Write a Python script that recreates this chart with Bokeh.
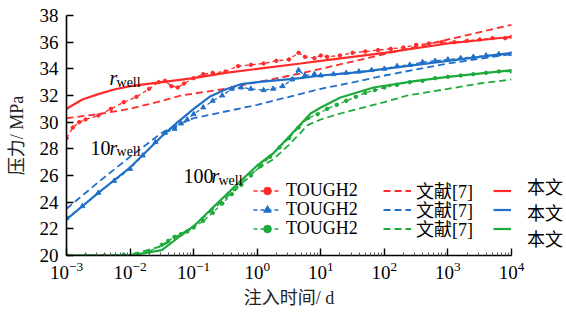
import numpy as np
from bokeh.plotting import figure
from bokeh.models import Legend, LegendItem, Label, FixedTicker
from bokeh.embed import file_html
from bokeh.resources import INLINE

# ---------------- data (log10 of time in days, pressure in MPa) ----------------
# r_well (red)
red_ours_logt = [-3.0, -2.75, -2.5, -2.25, -2.0, -1.5, -1.0, -0.5, 0.0, 0.68, 1.0, 2.0, 3.0, 4.0]
red_ours_p    = [31.0, 31.7, 32.1, 32.45, 32.7, 33.0, 33.3, 33.7, 34.0, 34.4, 34.6, 35.2, 35.9, 36.4]
red_ref_logt  = [-3.0, -2.5, -2.0, -1.5, -1.2, -0.5, 0.0, 0.68, 1.0, 2.0, 3.0, 4.0]
red_ref_p     = [30.3, 30.6, 31.0, 31.6, 32.0, 32.5, 33.0, 33.65, 34.0, 35.1, 36.2, 37.3]
red_tough_logt = [-3.0, -2.9, -2.8, -2.7, -2.5, -2.3, -2.1, -1.9, -1.7, -1.55, -1.45, -1.35, -1.25,
                  -1.15, -1.0, -0.85, -0.7, -0.5, -0.3, -0.1, 0.1, 0.3, 0.5, 0.65, 0.75, 0.9, 1.0,
                  1.1, 1.3, 1.5, 1.7, 1.9, 2.1, 2.3, 2.5, 2.7, 2.9, 3.1, 3.3, 3.5, 3.7, 3.9, 4.0]
red_tough_p    = [28.8, 29.6, 30.0, 30.2, 30.5, 31.0, 31.5, 31.9, 32.5, 33.0, 33.1, 32.7, 32.6,
                  32.9, 33.3, 33.6, 33.7, 33.8, 34.2, 34.3, 34.4, 34.6, 34.7, 35.2, 34.9, 34.8, 35.0,
                  34.9, 35.0, 35.2, 35.3, 35.4, 35.5, 35.6, 35.8, 35.9, 36.0, 36.0, 36.1, 36.2, 36.3, 36.3, 36.4]

# 10 r_well (blue)
blue_ours_logt = [-3.0, -2.5, -2.0, -1.5, -1.25, -1.0, -0.75, -0.5, -0.26, 0.0, 0.68, 1.0, 1.62, 2.0, 3.0, 4.0]
blue_ours_p    = [22.7, 24.7, 26.6, 28.95, 30.0, 31.0, 31.9, 32.45, 32.85, 33.0, 33.3, 33.5, 33.75, 34.0, 34.6, 35.2]
blue_ref_logt  = [-3.0, -2.5, -2.0, -1.5, -1.2, -1.0, -0.5, 0.0, 0.5, 1.0, 1.62, 2.0, 3.0, 4.0]
blue_ref_p     = [23.5, 25.5, 27.4, 29.2, 29.9, 30.3, 30.8, 31.3, 31.9, 32.5, 33.1, 33.5, 34.4, 35.1]
blue_tough_logt = [-3.0, -2.75, -2.5, -2.25, -2.0, -1.8, -1.6, -1.45, -1.3, -1.2, -1.1, -1.0, -0.85,
                   -0.7, -0.55, -0.4, -0.25, -0.1, 0.1, 0.25, 0.4, 0.55, 0.65, 0.75, 0.9, 1.0, 1.2,
                   1.4, 1.6, 1.8, 2.0, 2.2, 2.4, 2.6, 2.8, 3.0, 3.2, 3.4, 3.6, 3.8, 4.0]
blue_tough_p    = [22.8, 23.7, 24.7, 25.6, 26.5, 27.5, 28.5, 29.2, 29.5, 29.9, 30.2, 30.6, 31.1,
                   31.6, 32.0, 32.5, 32.6, 32.5, 32.4, 32.5, 32.7, 33.2, 33.9, 33.5, 33.6, 33.5, 33.6,
                   33.7, 33.8, 33.9, 34.0, 34.2, 34.3, 34.5, 34.6, 34.7, 34.8, 34.9, 35.0, 35.1, 35.1]

# 100 r_well (green)
green_ours_logt = [-3.0, -2.0, -1.5, -1.2, -1.0, -0.74, -0.5, -0.26, 0.0, 0.25, 0.5, 0.84, 1.0, 1.31, 1.83, 2.5, 3.0, 4.0]
green_ours_p    = [20.0, 20.0, 20.4, 21.5, 22.2, 23.4, 24.5, 25.6, 26.75, 27.65, 28.9, 30.65, 31.1, 31.85, 32.6, 33.1, 33.4, 33.9]
green_ref_logt  = [-3.0, -2.0, -1.5, -1.2, -1.0, -0.5, 0.0, 0.25, 0.5, 0.8, 1.0, 1.31, 2.0, 2.36, 3.0, 3.5, 4.0]
green_ref_p     = [20.0, 20.05, 20.7, 21.6, 22.2, 24.3, 26.5, 27.2, 28.3, 29.8, 30.2, 30.65, 31.5, 32.0, 32.5, 32.9, 33.2]
green_tough_logt = [-3.0, -2.7, -2.4, -2.1, -1.9, -1.7, -1.5, -1.4, -1.3, -1.2, -1.1, -1.0, -0.85, -0.7,
                    -0.55, -0.4, -0.25, -0.1, 0.05, 0.2, 0.35, 0.5, 0.65, 0.8, 0.95, 1.1, 1.25, 1.4,
                    1.55, 1.7, 1.85, 2.0, 2.2, 2.4, 2.6, 2.8, 3.0, 3.2, 3.4, 3.6, 3.8, 4.0]
green_tough_p    = [20.0, 20.0, 20.0, 20.05, 20.1, 20.3, 20.8, 21.1, 21.4, 21.6, 21.8, 22.1, 22.6, 23.2,
                    23.9, 24.6, 25.3, 26.0, 26.7, 27.4, 28.1, 28.8, 29.6, 30.3, 30.6, 31.0, 31.3, 31.6,
                    31.9, 32.2, 32.4, 32.6, 32.8, 33.0, 33.1, 33.3, 33.4, 33.5, 33.6, 33.7, 33.8, 33.8]

x_ticks = [1e-3, 1e-2, 1e-1, 1e0, 1e1, 1e2, 1e3, 1e4]
y_ticks = [20, 22, 24, 26, 28, 30, 32, 34, 36, 38]
legend_labels = ["TOUGH2", "文献[7]", "本文"]

RED, BLUE, GREEN = "#FF2B2B", "#2070C8", "#1DAA3C"
SERIF = "Liberation Serif, Noto Sans CJK SC"

def t(logs):
    return [10 ** v for v in logs]

p = figure(frame_width=445, frame_height=240, x_axis_type="log", x_range=(1e-3, 1e4), y_range=(20, 38),
           output_backend="svg", toolbar_location=None,
           min_border_left=66, min_border_right=0, min_border_top=15, min_border_bottom=65)
p.outline_line_color = None
p.grid.visible = False
p.background_fill_color = None
p.border_fill_color = None

for ax in (p.xaxis, p.yaxis):
    ax.axis_line_width = 1.6
    ax.axis_line_color = "black"
    ax.major_tick_line_color = "black"
    ax.major_tick_line_width = 1.4
    ax.major_tick_in = 7
    ax.major_tick_out = 0
    ax.major_label_text_font = SERIF
    ax.major_label_text_font_size = "19px"
    ax.major_label_text_color = "black"
    ax.axis_label_text_font = SERIF
    ax.axis_label_text_font_size = "18px"
    ax.axis_label_text_font_style = "normal"
    ax.axis_label_text_color = "#222222"

p.xaxis.ticker = FixedTicker(ticks=x_ticks,
                             minor_ticks=[m * 10 ** e for e in range(-3, 4) for m in range(2, 10)])
p.xaxis.minor_tick_in = 3
p.xaxis.minor_tick_out = 0
p.xaxis.minor_tick_line_color = "#555555"
p.xaxis.major_label_standoff = 6
p.xaxis.axis_label = "注入时间/ d"
p.xaxis.axis_label_standoff = 6

p.yaxis.ticker = FixedTicker(ticks=y_ticks)
p.yaxis.minor_tick_line_color = None
p.yaxis.major_label_standoff = 8
p.yaxis.axis_label = "压力/ MPa"
p.yaxis.axis_label_standoff = 10

def series(color, marker, msize, tl, tp, rl, rp, ol, op):
    tough_line = p.line(t(tl), tp, line_color=color, line_width=1.3, line_dash="4 3")
    tough_pts = p.scatter(t(tl), tp, marker=marker, size=msize, fill_color=color, line_color=color)
    ref_line = p.line(t(rl), rp, line_color=color, line_width=1.8, line_dash="7 4")
    ours_line = p.line(t(ol), op, line_color=color, line_width=2.2)
    return [tough_line, tough_pts], [ref_line], [ours_line]

r_t, r_r, r_o = series(RED, "circle", 3.5, red_tough_logt, red_tough_p, red_ref_logt, red_ref_p, red_ours_logt, red_ours_p)
b_t, b_r, b_o = series(BLUE, "triangle", 5, blue_tough_logt, blue_tough_p, blue_ref_logt, blue_ref_p, blue_ours_logt, blue_ours_p)
g_t, g_r, g_o = series(GREEN, "circle", 3.5, green_tough_logt, green_tough_p, green_ref_logt, green_ref_p, green_ours_logt, green_ours_p)

ROW_H = 26
row_offsets = [52, 33, 14]   # legend bottom offsets (px above the frame bottom) for the three rows

def legend_kw(gw, gh, lh, lw, std):
    return dict(orientation="vertical", border_line_color=None, background_fill_alpha=0,
                label_text_font=SERIF, label_text_font_size="18px", label_text_color="black",
                glyph_width=gw, glyph_height=gh, label_height=lh, label_width=lw, label_standoff=std,
                spacing=0, padding=0, margin=0, label_text_baseline="middle")

columns = [
    (legend_labels[0], [r_t, b_t, g_t], 187, 80),
    (legend_labels[1], [r_r, b_r, g_r], 317, 66),
    (" ", [r_o, b_o, g_o], 427, 2),
]
for label, groups, xoff, lw in columns:
    for g, yoff in zip(groups, row_offsets):
        p.add_layout(Legend(items=[LegendItem(label=label, renderers=g)], location=(xoff, yoff),
                            **legend_kw(28, 19, ROW_H, lw, 5)))

# text of the third legend column, in one legend placed in the right side panel next to its glyphs
ghost = p.line([1e-3, 1e-3], [20, 20], line_alpha=0)
p.add_layout(Legend(items=[LegendItem(label=legend_labels[2], renderers=[ghost]) for _ in range(3)],
                    location=(0, 4), **legend_kw(10, 19, 19, 38, 6)), "right")

def lab(x_log, y, text, size, italic=False):
    p.add_layout(Label(x=10 ** x_log, y=y, text=text, text_font="Liberation Serif",
                       text_font_size=size, text_font_style="italic" if italic else "normal",
                       text_baseline="alphabetic", text_color="black"))

# r_well
lab(-2.324, 33.28, "r", "20px", True)
lab(-2.213, 32.98, "well", "14px")
# 10 r_well
lab(-2.622, 28.10, "10", "20px")
lab(-2.324, 28.10, "r", "20px", True)
lab(-2.213, 27.80, "well", "14px")
# 100 r_well
lab(-1.159, 25.93, "100", "20px")
lab(-0.719, 25.93, "r", "20px", True)
lab(-0.609, 25.63, "well", "14px")

open("out.html", "w").write(file_html(p, INLINE))
